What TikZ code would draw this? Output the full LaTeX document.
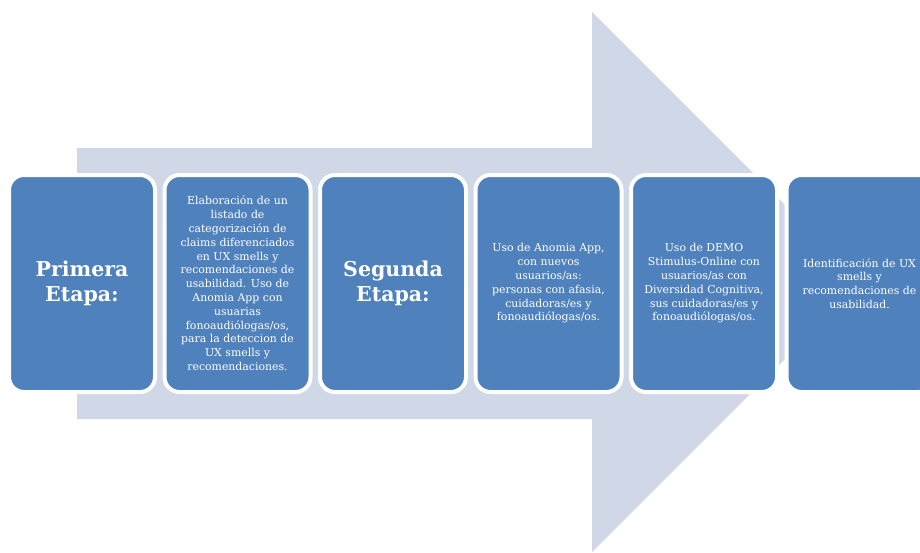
\documentclass[tikz,border=0pt]{standalone}
\usepackage{fontspec}
\setmainfont{DejaVu Serif}
\usetikzlibrary{positioning}
\definecolor{stage}{RGB}{79,129,189}
\definecolor{flow}{RGB}{208,216,232}

\begin{document}
\begin{tikzpicture}[
    x=1pt, y=-1pt,
    node distance=9.5pt,
    card/.style={rectangle, draw=white, line width=4pt, fill=stage, rounded corners=15pt, minimum width=146pt, minimum height=217pt, outer sep=0pt, inner sep=2pt, align=center, text=white},
    titlecard/.style={card, font=\fontsize{20.5}{25}\selectfont\bfseries},
    textcard/.style={card, font=\fontsize{10.9}{13.8}\selectfont},
]
\clip (0,0) rectangle (920,552);

% === BACKGROUND ARROW ===
\fill[flow] (77,148) -- (592,148) -- (592,12) -- (862,282) -- (592,552) -- (592,419) -- (77,419) -- cycle;

% === STAGES ===
\node[titlecard] (etapa1) at (82,283.5) {Primera\\Etapa:};
\node[textcard, right=of etapa1] (listado) {Elaboración de un\\listado de\\categorización de\\claims diferenciados\\en UX smells y\\recomendaciones de\\usabilidad. Uso de\\Anomia App con\\usuarias\\fonoaudiólogas/os,\\para la deteccion de\\UX smells y\\recomendaciones.};
\node[titlecard, right=of listado] (etapa2) {Segunda\\Etapa:};
\node[textcard, right=of etapa2] (anomia) {Uso de Anomia App,\\con nuevos\\usuarios/as:\\personas con afasia,\\cuidadoras/es y\\fonoaudiólogas/os.};
\node[textcard, right=of anomia] (demo) {Uso de DEMO\\Stimulus-Online con\\usuarios/as con\\Diversidad Cognitiva,\\sus cuidadoras/es y\\fonoaudiólogas/os.};
\node[textcard, right=of demo] (ident) {Identificación de UX\\smells y\\recomendaciones de\\usabilidad.};

\end{tikzpicture}
\end{document}
